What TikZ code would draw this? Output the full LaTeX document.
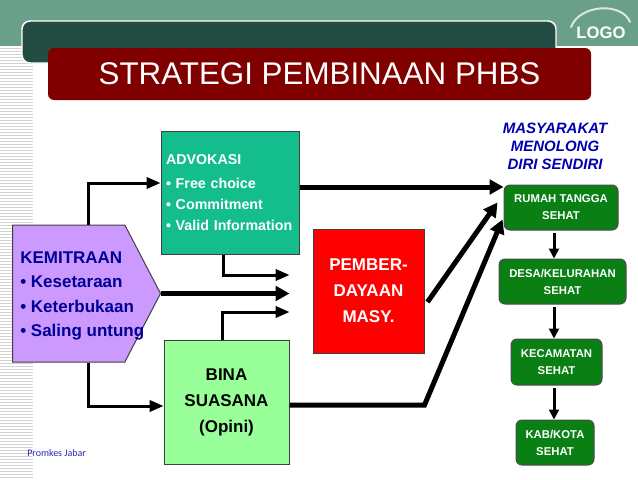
\documentclass[tikz,border=0pt]{standalone}
\usepackage{fontspec}
\setmainfont{Liberation Sans}
\newfontfamily\promkesfont{Carlito}
\usetikzlibrary{arrows.meta, calc, shapes.symbols}
\definecolor{bandgreen}{RGB}{106,160,138}
\definecolor{darkslate}{RGB}{35,76,66}
\definecolor{titlered}{RGB}{128,0,0}
\definecolor{advgreen}{RGB}{20,190,140}
\definecolor{kemlilac}{RGB}{204,153,255}
\definecolor{binagreen}{RGB}{153,255,153}
\definecolor{boxgreen}{RGB}{10,128,20}
\definecolor{kemnavy}{RGB}{0,0,150}
\definecolor{masblue}{RGB}{0,0,175}
\definecolor{promblue}{RGB}{40,40,180}

\begin{document}
\begin{tikzpicture}[x=0.75pt, y=-0.75pt,
  box/.style={draw=black!75, line width=0.75pt, inner sep=0pt, align=center},
  gbox/.style={draw=black!70, line width=0.75pt, fill=boxgreen, rounded corners=4.5pt,
               minimum height=33.75pt, inner sep=0pt, text=white, align=center,
               font=\bfseries\fontsize{8.5}{12.75}\selectfont},
  elbow/.style={-{Triangle[length=10.5pt,width=8.5pt]}, line width=2.25pt},
  bold arrow/.style={-{Triangle[length=10.5pt,width=11pt]}, line width=3.75pt},
  down arrow/.style={-{Triangle[length=7.5pt,width=7.5pt]}, line width=2.25pt}
]
  \useasboundingbox (0,0) rectangle (638,479);

  % slide background
  \fill[bandgreen] (0,0) rectangle (638,46);
  \foreach \y in {48,51,...,477}
    \draw[gray!35, line width=0.75pt] (0,\y) -- (33,\y);
  \draw[white!75!bandgreen, line width=1.5pt, line cap=round]
    (571,27) .. controls (580,4) and (622,2) .. (630,22);
  \node[text=white, font=\bfseries\fontsize{12.5}{15}\selectfont] (logo) at (601,33) {LOGO};
  \node[fill=darkslate, draw=white, line width=1.1pt, rounded corners=6pt,
        minimum width=400.5pt, minimum height=31.5pt] (band) at (289,42) {};
  \node[fill=titlered, rounded corners=4.5pt, minimum width=407.25pt, minimum height=39pt,
        text=white, font=\fontsize{23.5}{28}\selectfont] (title) at (319.5,74)
        {STRATEGI PEMBINAAN PHBS};

  % strategy boxes
  \node[signal, signal to=east, signal pointer angle=125, draw=black!75, line width=0.75pt,
        fill=kemlilac, minimum width=111pt, minimum height=102.75pt, anchor=west]
        (kem) at (12,293.5) {};
  \node[anchor=west, inner sep=0pt, text=kemnavy, align=left,
        font=\bfseries\fontsize{12.75}{18.4}\selectfont] (kemtxt) at (20,296)
        {KEMITRAAN\\• Kesetaraan\\• Keterbukaan\\• Saling untung};
  \node[box, fill=advgreen, text=white, align=left, text width=96pt, inner xsep=3.75pt,
        minimum height=92.25pt, font=\bfseries\fontsize{10.7}{15.75}\selectfont]
        (adv) at (230,192.5) {ADVOKASI\\[2.25pt]• Free choice\\• Commitment\\• Valid Information};
  \node[box, fill=binagreen, minimum width=93.75pt, minimum height=93pt,
        font=\bfseries\fontsize{12.75}{19.5}\selectfont] (bina) at (226.5,402)
        {BINA\\SUASANA\\(Opini)};
  \node[box, fill=red, text=white, minimum width=83.25pt, minimum height=93pt,
        font=\bfseries\fontsize{12.75}{19.5}\selectfont] (pem) at (368.5,291)
        {PEMBER-\\DAYAAN\\MASY.};

  % levels
  \node[text=masblue, align=center, font=\bfseries\itshape\fontsize{11.25}{13.5}\selectfont]
        (msd) at (555,146) {MASYARAKAT\\MENOLONG\\DIRI SENDIRI};
  \node[gbox, minimum width=85.5pt] (rt) at (561,207.5) {RUMAH TANGGA\\SEHAT};
  \node[gbox, minimum width=95.25pt] (desa) at (562.5,281.5) {DESA/KELURAHAN\\SEHAT};
  \node[gbox, minimum width=68.25pt, minimum height=34.5pt] (kec) at (556.5,362) {KECAMATAN\\SEHAT};
  \node[gbox, minimum width=58.5pt] (kab) at (555,442.5) {KAB/KOTA\\SEHAT};

  \node[anchor=west, inner sep=0pt, text=promblue, font=\promkesfont\fontsize{7.5}{9}\selectfont]
        (src) at (27,453) {Promkes Jabar};

  % connectors
  \draw[elbow] (kem.north -| 88,0) |- (adv.west |- 0,183);
  \draw[elbow] (kem.south -| 88,0) |- (bina.west |- 0,406);
  \draw[bold arrow, shorten >=17.25pt] (kem.east) -- (pem.west |- kem.east);
  \draw[elbow, shorten >=17.25pt] (adv.south -| 223,0) |- (pem.west |- 0,275);
  \draw[elbow, shorten >=17.25pt] (bina.north -| 222,0) |- (pem.west |- 0,312);

  \draw[bold arrow] (adv.east |- 0,187) -- (rt.west |- 0,187);
  \draw[bold arrow] ($(pem.east |- 0,302)+(3,0)$) -- ($(rt.west)+(-6,-5)$);
  \draw[bold arrow] (bina.east |- 0,405) -- (pem.east |- 0,405) -- ($(rt.west)+(-1,12)$);

  \draw[down arrow, shorten <=2pt] (rt.south -| 554,0) -- (desa.north -| 554,0);
  \draw[down arrow, shorten <=2pt] (desa.south -| 554,0) -- (kec.north -| 554,0);
  \draw[down arrow, shorten <=2pt] (kec.south -| 554,0) -- (kab.north -| 554,0);
\end{tikzpicture}
\end{document}
